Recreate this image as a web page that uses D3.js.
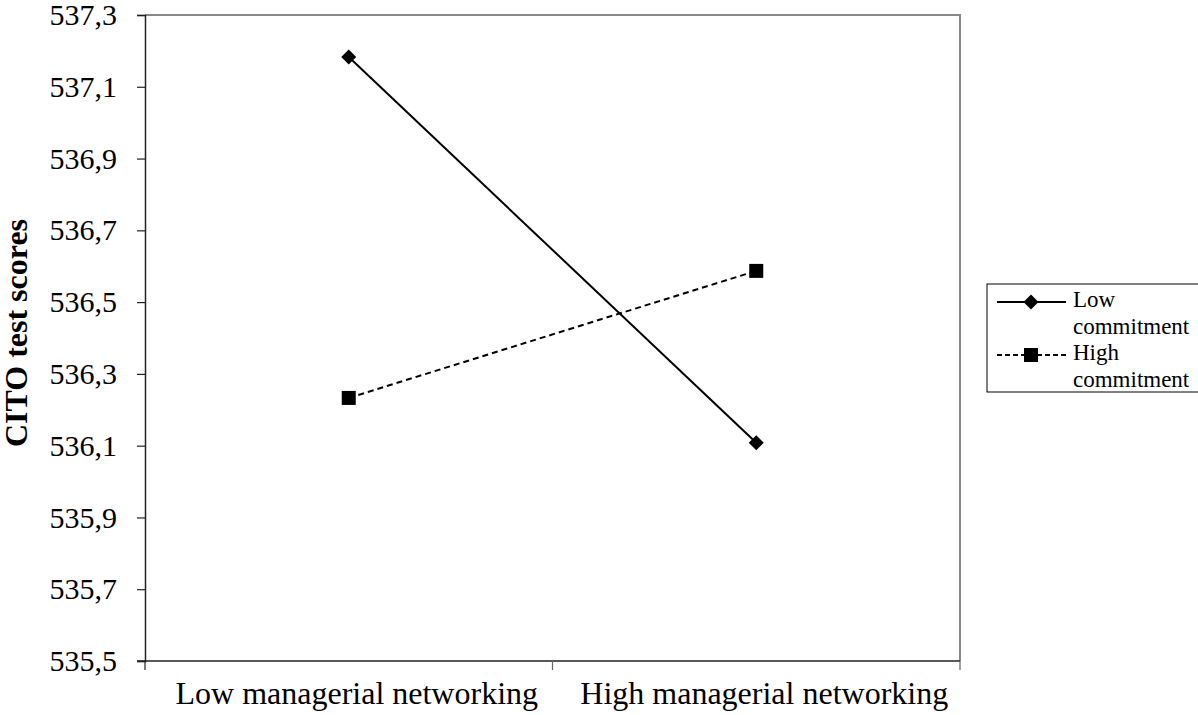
<!DOCTYPE html>
<html>
<head>
<meta charset="utf-8">
<script src="https://cdn.jsdelivr.net/npm/d3@7"></script>
<style>
  body { margin: 0; background: #fff; }
  text { font-family: "Liberation Serif", "Times New Roman", serif; fill: #000; }
</style>
</head>
<body>
<div id="chart"></div>
<script>
// chart data
var categories = ["Low managerial networking", "High managerial networking"];
var lowCommitment = [537.183, 536.108];
var highCommitment = [536.233, 536.587];
var yTicks = [535.5, 535.7, 535.9, 536.1, 536.3, 536.5, 536.7, 536.9, 537.1, 537.3];
var seriesNames = ["Low commitment", "High commitment"];

var width = 1198, height = 715;
var plotLeft = 145, plotRight = 960, plotTop = 15, plotBottom = 661;

var svg = d3.select("#chart").append("svg")
  .attr("width", width)
  .attr("height", height);

var x = d3.scaleBand().domain(categories).range([plotLeft, plotRight]);
var y = d3.scaleLinear().domain([535.5, 537.3]).range([plotBottom, plotTop]);

// gray plot frame (top and right)
svg.append("path")
  .attr("d", "M" + plotLeft + "," + plotTop + "H" + plotRight + "V" + plotBottom)
  .attr("fill", "none")
  .attr("stroke", "#888")
  .attr("stroke-width", 2);

// y axis
var yAxis = d3.axisLeft(y)
  .tickValues(yTicks)
  .tickSize(8)
  .tickPadding(20)
  .tickFormat(function(d) { return d3.format(".1f")(d).replace(".", ","); });

var yg = svg.append("g").attr("transform", "translate(" + plotLeft + ",0)").call(yAxis);
yg.select(".domain").attr("stroke", "#222").attr("stroke-width", 1.5);
yg.selectAll(".tick line").attr("stroke", "#222").attr("stroke-width", 1.2);
yg.selectAll(".tick text")
  .style("font-family", "'Liberation Serif', 'Times New Roman', serif")
  .style("font-size", "30px")
  .attr("fill", "#000");

// x axis: ticks at band boundaries
var xg = svg.append("g").attr("transform", "translate(0," + plotBottom + ")");
xg.append("line")
  .attr("x1", plotLeft - 8).attr("x2", plotRight)
  .attr("stroke", "#222").attr("stroke-width", 1.5);
var bounds = [plotLeft, plotLeft + x.bandwidth(), plotRight];
xg.selectAll(".xtick").data(bounds).enter().append("line")
  .attr("x1", function(d) { return d; })
  .attr("x2", function(d) { return d; })
  .attr("y1", 0).attr("y2", 9)
  .attr("stroke", function(d, i) { return i == 0 ? "#222" : "#666"; })
  .attr("stroke-width", 1.2);
xg.selectAll(".xlabel").data(categories).enter().append("text")
  .attr("x", function(d) { return x(d) + x.bandwidth() / 2 + 8; })
  .attr("y", 43)
  .attr("text-anchor", "middle")
  .style("font-size", "32px")
  .text(function(d) { return d; });

// y axis title
svg.append("text")
  .attr("transform", "translate(27,333) rotate(-90)")
  .attr("text-anchor", "middle")
  .style("font-size", "32px")
  .style("font-weight", "bold")
  .text("CITO test scores");

// lines
var line = d3.line()
  .x(function(d, i) { return x(categories[i]) + x.bandwidth() / 2; })
  .y(function(d) { return y(d); });

svg.append("path")
  .datum(lowCommitment)
  .attr("d", line)
  .attr("fill", "none")
  .attr("stroke", "#000")
  .attr("stroke-width", 2);

svg.append("path")
  .datum(highCommitment)
  .attr("d", line)
  .attr("fill", "none")
  .attr("stroke", "#000")
  .attr("stroke-width", 2)
  .attr("stroke-dasharray", "6,4");

var diamond = d3.symbol().type(d3.symbolSquare).size(112);
var square = d3.symbol().type(d3.symbolSquare).size(196);

svg.selectAll(".low").data(lowCommitment).enter().append("path")
  .attr("d", diamond)
  .attr("transform", function(d, i) {
    return "translate(" + (x(categories[i]) + x.bandwidth() / 2) + "," + y(d) + ") rotate(45)";
  })
  .attr("fill", "#000");

svg.selectAll(".high").data(highCommitment).enter().append("path")
  .attr("d", square)
  .attr("transform", function(d, i) {
    return "translate(" + (x(categories[i]) + x.bandwidth() / 2) + "," + y(d) + ")";
  })
  .attr("fill", "#000");

// legend
var lg = svg.append("g").attr("transform", "translate(987,284)");
lg.append("rect")
  .attr("x", 0).attr("y", 0)
  .attr("width", 240).attr("height", 108)
  .attr("fill", "#fff")
  .attr("stroke", "#000")
  .attr("stroke-width", 1);

// low commitment entry
lg.append("line")
  .attr("x1", 10).attr("x2", 79).attr("y1", 18).attr("y2", 18)
  .attr("stroke", "#000").attr("stroke-width", 2);
lg.append("path")
  .attr("d", diamond)
  .attr("transform", "translate(44,18) rotate(45)")
  .attr("fill", "#000");

// high commitment entry
lg.append("line")
  .attr("x1", 10).attr("x2", 79).attr("y1", 71).attr("y2", 71)
  .attr("stroke", "#000").attr("stroke-width", 2)
  .attr("stroke-dasharray", "5,3");
lg.append("path")
  .attr("d", square)
  .attr("transform", "translate(44,71)")
  .attr("fill", "#000");

var legendLines = [["Low", "commitment"], ["High", "commitment"]];
legendLines.forEach(function(words, i) {
  words.forEach(function(w, j) {
    lg.append("text")
      .attr("x", 86)
      .attr("y", 23 + i * 53 + j * 27)
      .style("font-size", "23px")
      .text(w);
  });
});
</script>
</body>
</html>
